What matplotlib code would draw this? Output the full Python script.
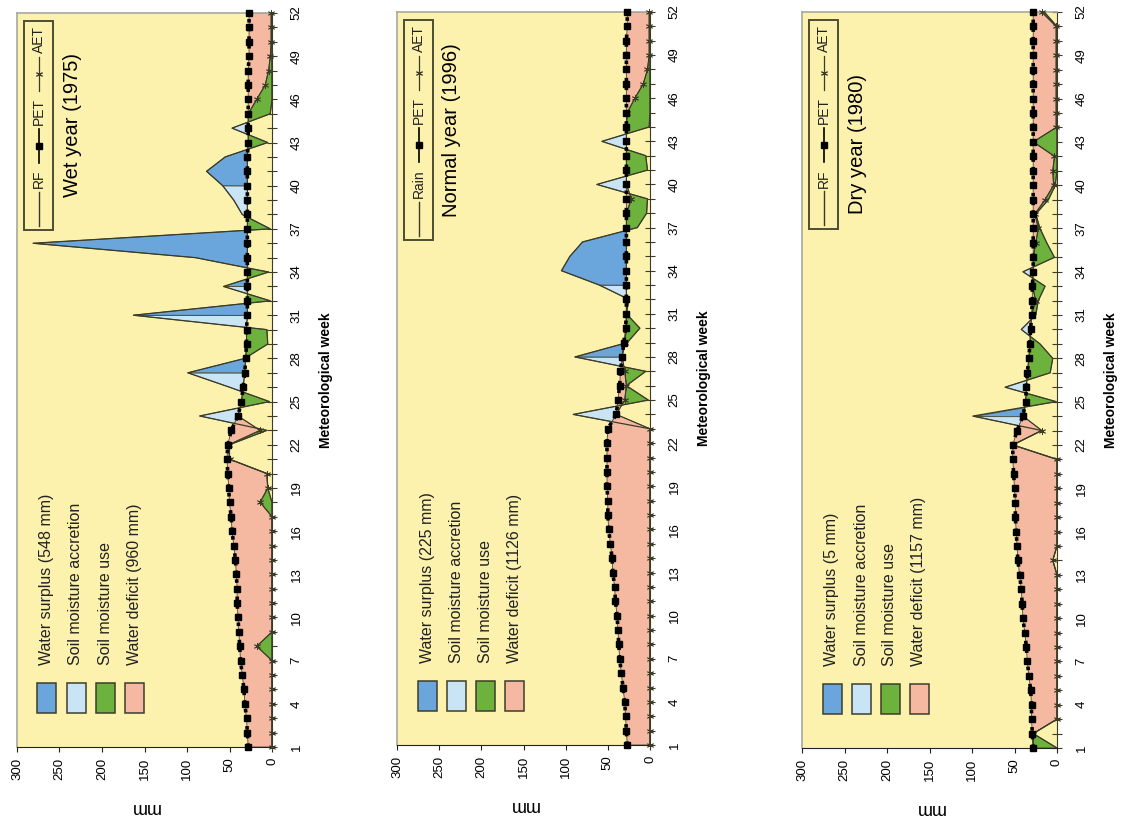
import numpy as np
import matplotlib
matplotlib.use('Agg')
import matplotlib.pyplot as plt
from matplotlib.patches import Rectangle
from matplotlib.lines import Line2D

plt.rcParams['font.family'] = ['Liberation Sans', 'DejaVu Sans']

W, H = 1124, 822
weeks = np.arange(1, 53)

# wet year 1975
rf_wet = [0, 0, 0, 0, 0, 0, 0, 0, 0, 0, 0, 0, 0, 0, 0, 0, 0, 0, 5, 6,
          50, 50, 6, 85, 3, 50, 99, 32, 5, 6, 163, 2, 57, 4, 90, 281, 2, 35, 45, 58,
          77, 55, 5, 47, 2, 0, 0, 0, 0, 0, 0, 0]
pet_wet = [28, 29, 30, 32, 33, 35, 37, 38, 39, 40, 41, 41, 42, 43, 45, 47, 48, 50, 51, 52,
           53, 52, 48, 40, 36, 34, 32, 31, 30, 30, 29, 29, 29, 29, 29, 29, 29, 29, 29, 29,
           29, 29, 28, 28, 28, 28, 28, 28, 27, 27, 27, 27]
aet_wet = [0, 0, 0, 0, 0, 0, 0, 18, 0, 0, 0, 0, 0, 0, 0, 0, 0, 14, 5, 6,
           50, 51, 14, 40, 36, 34, 32, 31, 30, 30, 29, 29, 29, 29, 29, 29, 29, 29, 29, 29,
           29, 29, 28, 28, 28, 18, 8, 4, 2, 1, 1, 1]
acc_wet = [23, 24, 25, 26, 30, 32, 37, 38, 39, 43, 44]

# normal year 1996
rf_norm = [0, 0, 0, 0, 0, 0, 0, 0, 0, 0, 0, 0, 0, 0, 0, 0, 0, 0, 0, 0,
           0, 0, 0, 91, 2, 28, 5, 89, 27, 12, 28, 25, 60, 105, 95, 80, 15, 4, 3, 63,
           3, 5, 57, 1, 0, 0, 0, 0, 0, 0, 0, 0]
pet_norm = [27, 28, 29, 30, 32, 34, 36, 37, 38, 39, 41, 42, 44, 45, 47, 49, 50, 50, 51, 51,
            51, 51, 50, 40, 38, 36, 35, 33, 31, 29, 28, 28, 28, 28, 28, 28, 28, 28, 28, 28,
            28, 28, 28, 28, 28, 28, 28, 28, 28, 28, 27, 27]
aet_norm = [0, 0, 0, 0, 0, 0, 0, 0, 0, 0, 0, 0, 0, 0, 0, 0, 0, 0, 0, 0,
            0, 0, 0, 40, 30, 28, 30, 33, 30, 28, 28, 28, 28, 28, 28, 28, 28, 28, 22, 28,
            28, 28, 28, 28, 27, 18, 8, 3, 1, 1, 1, 1]
acc_norm = [23, 24, 27, 32, 39, 40, 42, 43]

# dry year 1980
rf_dry = [0, 28, 0, 0, 0, 0, 0, 0, 0, 0, 0, 0, 0, 5, 0, 0, 0, 0, 0, 0,
          0, 52, 18, 99, 1, 61, 8, 5, 20, 42, 25, 22, 14, 40, 3, 12, 20, 25, 10, 2,
          0, 0, 0, 0, 0, 0, 0, 0, 0, 0, 0, 15]
pet_dry = [28, 29, 30, 30, 31, 33, 35, 36, 38, 40, 41, 42, 44, 46, 47, 48, 49, 49, 50, 51,
           52, 52, 47, 40, 37, 36, 35, 33, 32, 31, 30, 29, 29, 28, 28, 28, 28, 28, 28, 28,
           28, 28, 28, 28, 28, 28, 28, 28, 28, 28, 28, 28]
aet_dry = [28, 28, 0, 0, 0, 0, 0, 0, 0, 0, 0, 0, 0, 5, 0, 0, 0, 0, 0, 0,
           0, 52, 18, 40, 37, 36, 35, 33, 32, 31, 30, 25, 29, 28, 28, 25, 22, 26, 14, 4,
           5, 3, 28, 1, 1, 1, 1, 1, 1, 1, 1, 18]
acc_dry = [23, 25, 26, 29, 30, 33, 34]

titles = ['Wet year (1975)', 'Normal year (1996)', 'Dry year (1980)']
rain_names = ['RF', 'Rain', 'RF']
surplus_mm = [548, 225, 5]
deficit_mm = [960, 1126, 1157]

BG = '#fcf1ad'
C_SUR = '#6aa5db'
C_ACC = '#c8e4f5'
C_USE = '#6cb23c'
C_DEF = '#f5b9a2'
EDGE = '#4a4a32'

# axes boxes in pixels: left, right, top, bottom
boxes = [(17, 272, 13, 747), (397, 650, 12, 745), (802, 1057, 12, 748)]
title_y = [0.847, 0.839, 0.82]

fig = plt.figure(figsize=(W / 100, H / 100), dpi=100)
fig.patch.set_facecolor('white')
renderer = fig.canvas.get_renderer()


def fx(x):
    return x / W


def fy(y):
    return 1 - y / H


def draw_panel(i, rf, pet, aet, acc):
    l, r, t, b = boxes[i]
    ax = fig.add_axes([fx(l), fy(b), (r - l) / W, (b - t) / H])
    ax.set_facecolor(BG)

    yy = np.linspace(1, 52, 5101)
    R = np.interp(yy, weeks, rf)
    P = np.interp(yy, weeks, pet)
    A = np.interp(yy, weeks, aet)
    light = np.isin(np.floor(yy).astype(int), acc)
    up = R > P
    kw = dict(edgecolor=EDGE, linewidth=0.6, interpolate=True, zorder=2)
    ax.fill_betweenx(yy, P, R, where=up & light, facecolor=C_ACC, **kw)
    ax.fill_betweenx(yy, P, R, where=up & ~light, facecolor=C_SUR, **kw)
    ax.fill_betweenx(yy, R, A, where=A > R, facecolor=C_USE, **kw)
    ax.fill_betweenx(yy, A, P, where=P > A, facecolor=C_DEF, **kw)

    ax.plot(rf, weeks, color='#3b3b28', lw=0.9, zorder=3)
    ax.plot(aet, weeks, color='#3b3b28', lw=0.8, marker=(6, 2, 0), ms=5, mew=0.6,
            zorder=4, clip_on=False)
    ax.plot(pet, weeks, color='black', lw=2.6, ls=(0, (1, 1.4)), marker='s', ms=3.8,
            zorder=5, clip_on=False)

    ax.set_xlim(300, 0)
    ax.set_ylim(1, 52)
    for s in ['top', 'left']:
        ax.spines[s].set_color('#a8a8a0')
        ax.spines[s].set_linewidth(1.2)
    ax.spines['bottom'].set_color('#222222')
    ax.spines['right'].set_color('#3b3b28')

    ax.set_xticks(range(0, 301, 50))
    ax.tick_params(axis='x', direction='out', length=3.5, labelsize=9.5,
                   labelrotation=90, pad=4, color='#222222')
    ax.yaxis.tick_right()
    ax.set_yticks(weeks)
    ax.set_yticklabels([str(w) if (w - 1) % 3 == 0 else '' for w in weeks])
    ax.tick_params(axis='y', direction='inout', length=7, labelsize=9.5,
                   labelrotation=90, pad=10, color='#3b3b28')
    for lab in ax.get_yticklabels():
        lab.set_va('center')

    ax.set_xlabel('mm', rotation=180, fontsize=13, labelpad=14)
    ax.yaxis.set_label_position('right')
    ax.set_ylabel('Meteorological week', fontsize=10, fontweight='bold', labelpad=12)

    ax.text(0.217, title_y[i], titles[i], transform=ax.transAxes, rotation=90,
            ha='center', va='center', fontsize=14.5)

    # area legend (rotated)
    labels = ['Water surplus (%d mm)' % surplus_mm[i], 'Soil moisture accretion',
              'Soil moisture use', 'Water deficit (%d mm)' % deficit_mm[i]]
    colors = [C_SUR, C_ACC, C_USE, C_DEF]
    for k in range(4):
        cx = l + 30 + 29 * k
        fig.patches.append(Rectangle((fx(cx - 9.5), fy(b - 34)), 19 / W, 30 / H,
                                     transform=fig.transFigure, facecolor=colors[k],
                                     edgecolor='#3d3d2d', lw=1.1, zorder=6))
        fig.text(fx(cx), fy(b - 82), labels[k], rotation=90, ha='center', va='bottom',
                 fontsize=11.5, color='#222222')

    # line legend (rotated, top)
    bx0, bx1 = l + 7, l + 36
    cx = (bx0 + bx1) / 2
    y = t + 8 + 5
    items = [('AET', dict(marker=(6, 2, 0), ms=5, mew=0.7, lw=0.9, color='#3b3b28')),
             ('PET', dict(marker='s', ms=4, lw=1.2, color='black')),
             (rain_names[i], dict(lw=1.0, color='#3b3b28'))]
    for name, st in items:
        tx = fig.text(fx(cx), fy(y), name, rotation=90, ha='center', va='top',
                      fontsize=10, color='#222222')
        hgt = tx.get_window_extent(renderer).height
        y += hgt + 4
        seg = 34
        fig.lines.append(Line2D([fx(cx), fx(cx)], [fy(y), fy(y + seg)],
                                transform=fig.transFigure, lw=st['lw'], color=st['color']))
        if 'marker' in st:
            fig.lines.append(Line2D([fx(cx)], [fy(y + seg / 2)], transform=fig.transFigure,
                                    marker=st['marker'], ms=st['ms'], mew=st.get('mew', 1),
                                    color=st['color'], ls='none'))
        y += seg + 7
    y -= 3
    fig.patches.append(Rectangle((fx(bx0), fy(y)), (bx1 - bx0) / W, (y - t - 8) / H,
                                 transform=fig.transFigure, facecolor='none',
                                 edgecolor='#4d4d33', lw=1.4, zorder=6))
    return ax


draw_panel(0, rf_wet, pet_wet, aet_wet, acc_wet)
draw_panel(1, rf_norm, pet_norm, aet_norm, acc_norm)
draw_panel(2, rf_dry, pet_dry, aet_dry, acc_dry)

fig.savefig('out.png', dpi=100)
